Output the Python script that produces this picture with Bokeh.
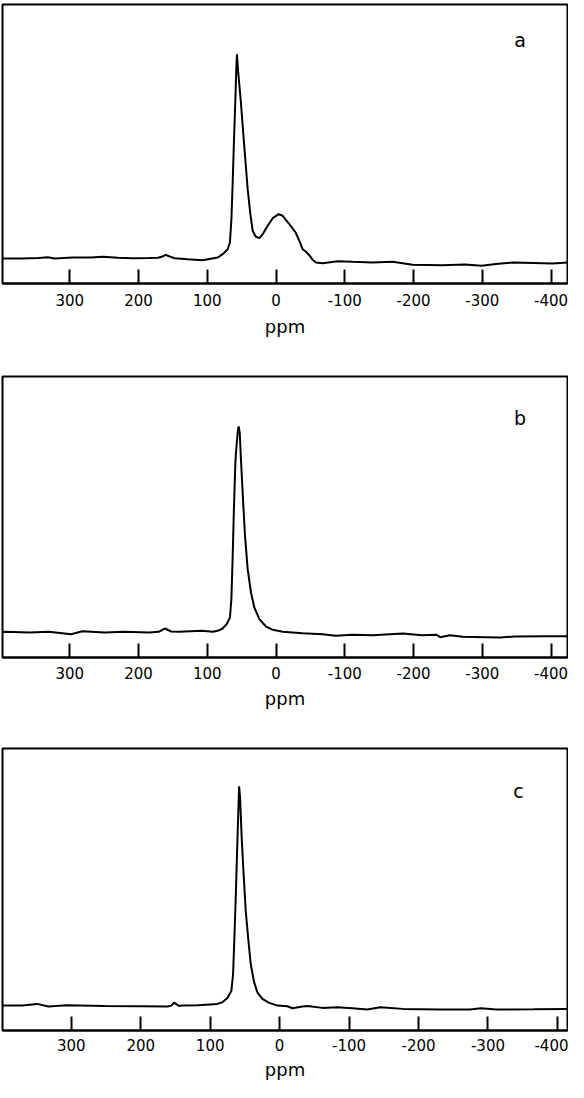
from bokeh.plotting import figure
from bokeh.layouts import column
from bokeh.models import Range1d, FixedTicker, Label
from bokeh.embed import file_html
from bokeh.resources import INLINE

# ---- data ----
tick_values = [300, 200, 100, 0, -100, -200, -300, -400]
tick_labels = ["300", "200", "100", "0", "-100", "-200", "-300", "-400"]
panel_labels = ["a", "b", "c"]
axis_title = "ppm"

a_ppm = [398, 370, 345, 332, 322, 296, 270, 252, 230, 209, 185, 172, 165, 160.6, 154.8, 147.5,
         128.6, 106.8, 84.9, 77.6, 70.4, 67.1, 65.0, 63.1, 61.2, 59.2, 57.7, 56.9, 55.4, 51.5,
         46.7, 41.3, 37.4, 34.0, 29.7, 24.3, 19.5, 12.2, 4.9, -3.8, -9.6, -19.3, -28.5, -33.9,
         -38.7, -43.5, -48.4, -53.2, -58.0, -67.8, -89.6, -111.4, -140, -169.6, -198.7, -242,
         -275, -299, -320, -344, -375, -402, -426]
a_int = [25, 25, 25.5, 26.3, 25, 26, 26, 26.7, 25.8, 25.3, 25.5, 25.7, 27, 28.7, 27, 25.3,
         24.3, 23.3, 26, 29.3, 34.3, 41, 64, 101, 144, 184, 217.7, 229.3, 214, 184,
         141, 94.3, 69.3, 52.7, 47, 45.3, 49.3, 57.7, 65.3, 69.3, 67.7, 59.3, 51, 42.7,
         34.3, 31.7, 28.3, 23.7, 21, 20.3, 22.3, 21.7, 21, 21.7, 18.7, 18.3,
         19, 17.7, 19.5, 21, 20.5, 20, 21]

b_ppm = [398, 393.6, 358, 330.8, 298, 282, 249, 222, 184, 170.8, 161.5, 152.7, 140.8, 108,
         92.2, 84.9, 77.7, 71.9, 67.1, 65.0, 63.1, 61.2, 59.2, 58.3, 55.9, 54.4, 52.9, 51.1,
         48.1, 45.2, 41.3, 36.5, 31.6, 24.3, 14.7, 4.9, -9.6, -38.7, -67.8, -86.7, -111.4,
         -140.5, -184.7, -212, -233.6, -239, -252.6, -271.6, -304, -326, -347, -391, -424]
b_int = [25.5, 25.7, 25, 25.7, 23.3, 26.3, 25, 25.7, 25, 25.7, 29, 26, 25.7, 26.7,
         25.7, 26.7, 29, 33.3, 40, 58.3, 101.7, 151.7, 195, 205, 225, 231, 225, 198.3,
         158.3, 121.7, 88.3, 65, 50, 38.3, 31, 27.7, 25.7, 24.3, 23.3, 21.7, 22.7,
         22.3, 24, 22.3, 22.7, 20.3, 22.3, 20.7, 20.3, 20, 21, 21.3, 21.3]

c_ppm = [399, 392, 370.6, 349, 333, 306, 252, 199, 161, 156, 152, 145, 140.1, 118, 111.2,
         89.6, 82.4, 75.2, 69.4, 67.0, 65.1, 63.2, 61.2, 59.3, 58.3, 56.9, 54.6, 52.1, 48.8,
         44.9, 41.6, 36.7, 32.0, 24.8, 15.1, 3.2, -11.2, -18.4, -32.8, -40, -61.6, -83.2,
         -104.6, -126.3, -145, -177.4, -231, -274, -290, -312, -365.5, -415]
c_int = [25, 25, 25, 26.7, 24, 25.3, 24.7, 24.3, 24, 25, 28, 24.7, 25, 25.3, 25.7,
         26.7, 28.3, 32.7, 40, 56.7, 93.3, 133.3, 180, 223.3, 245, 233.3, 193.3, 160, 120,
         90, 66.7, 48.3, 38.3, 31.7, 27.7, 25, 24.3, 22.3, 24, 24.7, 22.7, 23.3,
         22.3, 21, 23.3, 21.7, 21, 21, 22.3, 21, 21.3, 21.7]

FONT = "DejaVu Sans"


def make_panel(ppm, inten, xr, ytop, height, top_b, bot_b, label, lx, ly,
               lab_standoff, ax_standoff):
    p = figure(width=568, height=height, x_range=Range1d(*xr), y_range=Range1d(0, ytop),
               output_backend="svg", toolbar_location=None, y_axis_location=None,
               min_border_left=2, min_border_right=1, min_border_top=top_b,
               min_border_bottom=bot_b)
    p.line(ppm, inten, line_color="black", line_width=2)
    p.grid.visible = False
    p.outline_line_color = "black"
    p.outline_line_width = 2
    p.outline_line_alpha = 1.0
    p.background_fill_color = "white"
    p.border_fill_color = "white"
    ax = p.xaxis[0]
    ax.ticker = FixedTicker(ticks=tick_values)
    ax.major_label_overrides = {t: s for t, s in zip(tick_values, tick_labels)}
    ax.axis_line_width = 2
    ax.axis_line_color = "black"
    ax.major_tick_in = 14
    ax.major_tick_out = 0
    ax.major_tick_line_width = 2
    ax.major_tick_line_color = "black"
    ax.minor_tick_line_color = None
    ax.major_label_text_font = FONT
    ax.major_label_text_font_size = "15px"
    ax.major_label_text_color = "black"
    ax.major_label_standoff = lab_standoff
    ax.axis_label = axis_title
    ax.axis_label_text_font = FONT
    ax.axis_label_text_font_size = "18px"
    ax.axis_label_text_font_style = "normal"
    ax.axis_label_text_color = "black"
    ax.axis_label_standoff = ax_standoff
    p.add_layout(Label(x=lx, y=ly, text=label, text_font=FONT, text_font_size="19px",
                       text_color="black", text_align="center",
                       text_baseline="alphabetic"))
    return p


pa = make_panel(a_ppm, a_int, (398, -424), 279, 362, 4, 79, panel_labels[0], -355, 244, 10, 7)
pb = make_panel(b_ppm, b_int, (398, -424), 281, 375, 14, 80, panel_labels[1], -355, 240, 9, 6)
pc = make_panel(c_ppm, c_int, (399, -414.5), 283, 345, 11, 51, panel_labels[2], -344, 240, 8, 5)

layout = column(pa, pb, pc, spacing=0)
open("out.html", "w").write(file_html(layout, INLINE))
